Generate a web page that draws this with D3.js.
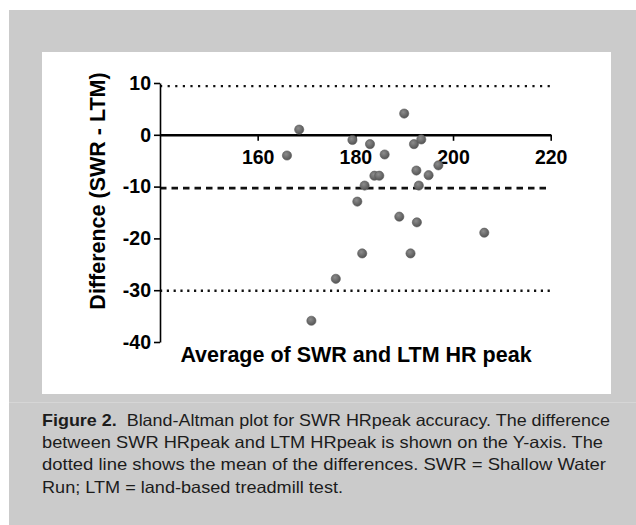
<!DOCTYPE html>
<html>
<head>
<meta charset="utf-8">
<script src="https://cdn.jsdelivr.net/npm/d3@7"></script>
<style>
  body { margin: 0; background: #fff; }
  svg text { font-family: "Liberation Sans", Arial, sans-serif; }
</style>
</head>
<body>
<svg id="chart" width="636" height="525"></svg>
<script>
//-- data --//
var avgHR  = [166, 168.5, 179.4, 180.4, 183, 186, 183.9, 184.9, 181.9, 190, 192, 193.5, 192.5, 195, 197, 193, 189, 192.6, 206.4, 181.4, 191.3, 176, 171];
var diffHR = [-4, 1, -1, -12.9, -1.8, -3.8, -7.9, -7.9, -9.8, 4.1, -1.8, -0.9, -6.9, -7.8, -5.9, -9.8, -15.8, -16.9, -18.9, -22.9, -22.9, -27.8, -35.9];
var xTicks = [160, 180, 200, 220];
var yTicks = [-40, -30, -20, -10, 0, 10];
var limitNames  = ["upper", "mean", "lower"];
var limitValues = [9.4, -10.3, -30.1];
var captionLines = [
  ["Figure 2.", "  Bland-Altman plot for SWR HRpeak accuracy. The difference"],
  ["", "between SWR HRpeak and LTM HRpeak is shown on the Y-axis. The"],
  ["", "dotted line shows the mean of the differences. SWR = Shallow Water"],
  ["", "Run; LTM = land-based treadmill test."]
];
var captionWidths = [568, 561, 564, 301];
//-- data --//

var svg = d3.select("#chart");

//--panel backgrounds--//
svg.append("rect").attr("x", 9).attr("y", 10).attr("width", 627).attr("height", 515).attr("fill", "#cbcbcb");
svg.append("rect").attr("x", 42).attr("y", 52).attr("width", 569).attr("height", 342).attr("fill", "#fff");
svg.append("line").attr("x1", 9).attr("x2", 636).attr("y1", 402.5).attr("y2", 402.5)
  .attr("stroke", "#d6d6d6").attr("stroke-width", 1);

//--scales--//
var x = d3.scaleLinear().domain([140, 220]).range([160, 550.7]);
var y = d3.scaleLinear().domain([-40, 10]).range([342, 83]);

//--limit lines--//
var dash = { upper: "2.2,5.4", mean: "6.5,5", lower: "2.2,4.6" };
var width = { upper: 2.4, mean: 2.8, lower: 2.6 };
svg.append("g").selectAll("line")
  .data(limitNames)
  .enter().append("line")
  .attr("x1", x(140)).attr("x2", x(220))
  .attr("y1", (d, i) => y(limitValues[i]))
  .attr("y2", (d, i) => y(limitValues[i]))
  .attr("stroke", "#111")
  .attr("stroke-width", d => width[d])
  .attr("stroke-dasharray", d => dash[d]);

//--axes--//
var fmt = d => String(d);
var xAxis = svg.append("g")
  .attr("transform", `translate(0,${y(0)})`)
  .call(d3.axisBottom(x).tickValues(xTicks).tickFormat(fmt).tickSizeInner(6).tickSizeOuter(0).tickPadding(9));
xAxis.select(".domain").attr("stroke", "#000").attr("stroke-width", 2.4);

var yAxis = svg.append("g")
  .attr("transform", `translate(${x(140)},0)`)
  .call(d3.axisLeft(y).tickValues(yTicks).tickFormat(fmt).tickSizeInner(6).tickSizeOuter(0).tickPadding(3));
yAxis.select(".domain").attr("stroke", "#000").attr("stroke-width", 1.6);

svg.selectAll(".tick line").attr("stroke", "#000").attr("stroke-width", 1.6);
svg.selectAll(".tick text")
  .attr("fill", "#000")
  .style("font-family", "'Liberation Sans', Arial, sans-serif")
  .style("font-size", "19.5px")
  .style("font-weight", "bold");

//--axis titles--//
svg.append("text")
  .attr("transform", "translate(105,191) rotate(-90)")
  .attr("text-anchor", "middle")
  .style("font-size", "21.5px").style("font-weight", "bold")
  .text("Difference (SWR - LTM)");

svg.append("text")
  .attr("x", 356).attr("y", 362)
  .attr("text-anchor", "middle")
  .style("font-size", "21.5px").style("font-weight", "bold")
  .text("Average of SWR and LTM HR peak");

//--points--//
var grad = svg.append("defs").append("radialGradient")
  .attr("id", "ball").attr("cx", "40%").attr("cy", "35%").attr("r", "65%");
grad.append("stop").attr("offset", "0%").attr("stop-color", "#8c8c8c");
grad.append("stop").attr("offset", "100%").attr("stop-color", "#555");

svg.append("g").selectAll("circle")
  .data(avgHR)
  .enter().append("circle")
  .attr("cx", d => x(d))
  .attr("cy", (d, i) => y(diffHR[i]))
  .attr("r", 4.6)
  .attr("fill", "url(#ball)")
  .attr("stroke", "#5a5a5a")
  .attr("stroke-width", 0.6);

//--caption--//
var cap = svg.append("g");
captionLines.forEach(function(line, i) {
  var t = cap.append("text")
    .attr("x", 42).attr("y", 425.5 + i * 22.4)
    .attr("fill", "#1c1c1c")
    .attr("textLength", captionWidths[i])
    .attr("lengthAdjust", "spacingAndGlyphs")
    .style("font-size", "16.5px")
    .attr("xml:space", "preserve");
  if (line[0]) t.append("tspan").style("font-weight", "bold").text(line[0]);
  t.append("tspan").text(line[1]);
});
</script>
</body>
</html>
